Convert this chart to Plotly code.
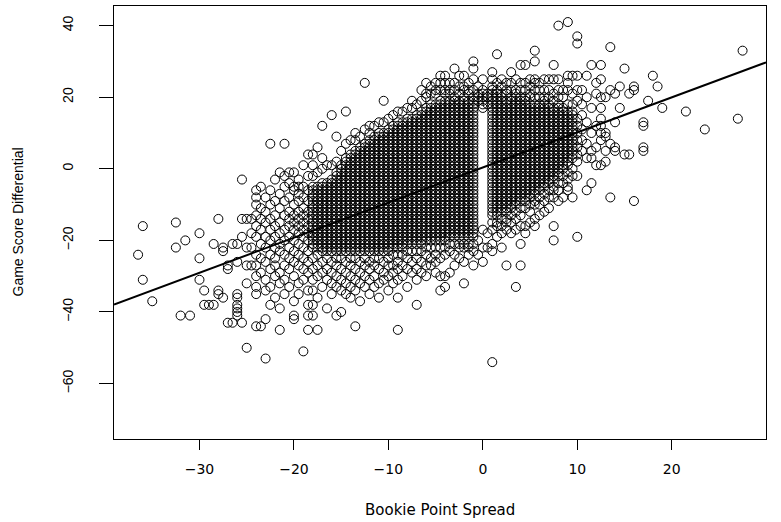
import plotly.graph_objects as go

# Bookie point spread columns (x) and the game score differentials observed at each spread (y)
spread_values = [
    -36.5, -36, -35, -32.5, -32, -31.5, -31, -30, -29.5, -29, -28.5, -28, -27.5, -27, -26.5,
    -26, -25.5, -25, -24.5, -24, -23.5, -23, -22.5, -22, -21.5, -21, -20.5, -20, -19.5, -19,
    -18.5, -18, -17.5, -17, -16.5, -16, -15.5, -15, -14.5, -14, -13.5, -13, -12.5, -12, -11.5,
    -11, -10.5, -10, -9.5, -9, -8.5, -8, -7.5, -7, -6.5, -6, -5.5, -5, -4.5, -4, -3.5, -3,
    -2.5, -2, -1.5, -1, -0.5, 0, 0.5, 1, 1.5, 2, 2.5, 3, 3.5, 4, 4.5, 5, 5.5, 6, 6.5, 7, 7.5,
    8, 8.5, 9, 9.5, 10, 10.5, 11, 11.5, 12, 12.5, 13, 13.5, 14, 14.5, 15, 15.5, 16, 17, 17.5,
    18, 18.5, 19, 21.5, 23.5, 27, 27.5,
]

score_lists = [
    [-24],  # -36.5
    [-16, -31],  # -36
    [-37],  # -35
    [-15, -22],  # -32.5
    [-41],  # -32
    [-20],  # -31.5
    [-41],  # -31
    [-18, -25, -31],  # -30
    [-38, -34],  # -29.5
    [-38],  # -29
    [-21, -38],  # -28.5
    [-14, -34, -35],  # -28
    [-22, -23, -36],  # -27.5
    [-27, -28, -43],  # -27
    [-21, -43],  # -26.5
    [-21, -26, -35, -36, -38, -39, -40, -41],  # -26
    [-3, -14, -19, -43],  # -25.5
    [-14, -22, -27, -32, -50],  # -25
    [-14, -18, -22, -27],  # -24.5
    [-6, -8, -10, -13, -16, -19, -24, -27, -30, -33, -35, -44],  # -24
    [-5, -11, -14, -17, -21, -25, -29, -44],  # -23.5
    [-8, -12, -15, -19, -22, -26, -31, -34, -42, -53],  # -23
    [7, -6, -10, -14, -17, -20, -24, -28, -33, -38],  # -22.5
    [-3, -9, -13, -16, -19, -22, -25, -27, -30, -36],  # -22
    [-1, -7, -11, -15, -18, -21, -23, -29, -32, -39, -45],  # -21.5
    [7, -2, -5, -9, -13, -17, -20, -24, -27, -31, -35],  # -21
    [-1, -4, -8, -12, -14, -16, -19, -22, -25, -28, -33],  # -20.5
    [-1, -5, -6, -10, -13, -15, -17, -20, -23, -26, -30, -37, -41, -42],  # -20
    [-3, -5, -7, -9, -12, -14, -16, -18, -21, -24, -27, -32, -35],  # -19.5
    [1, -5, -8, -11, -13, -15, -17, -19, -22, -25, -28, -31, -51],  # -19
    [4, -2, -6, -9, -12, -14, -16, -18, -20, -23, -26, -29, -34, -38, -41, -45],  # -18.5
    [-22, -21, -20, -19, -18, -17, -16, -15, -14, -13, -12, -11, -10, -9, -8, -7, -6, -5,
     -2, 1, 4, -25, -28, -31, -34, -38, -41],  # -18
    [-22, -21, -20, -19, -18, -17, -16, -15, -14, -13, -12, -11, -10, -9, -8, -7, -6, -5,
     -1, 6, -24, -27, -30, -36, -45],  # -17.5
    [-23, -22, -21, -20, -19, -18, -17, -16, -15, -14, -13, -12, -11, -10, -9, -8, -7, -6, -5, -4,
     0, 3, 12, -26, -29, -33],  # -17
    [-23, -22, -21, -20, -19, -18, -17, -16, -15, -14, -13, -12, -11, -10, -9, -8, -7, -6, -5, -4,
     1, -25, -28, -31, -39],  # -16.5
    [-23, -22, -21, -20, -19, -18, -17, -16, -15, -14, -13, -12, -11, -10, -9, -8, -7, -6, -5, -4, -3,
     1, 15, -26, -29, -32, -35],  # -16
    [-23, -22, -21, -20, -19, -18, -17, -16, -15, -14, -13, -12, -11, -10, -9, -8, -7, -6, -5, -4, -3,
     -2, -1, 2, 9, -25, -27, -30, -33, -41],  # -15.5
    [-23, -22, -21, -20, -19, -18, -17, -16, -15, -14, -13, -12, -11, -10, -9, -8, -7, -6, -5, -4, -3,
     -2, -1, 0, 1, 5, -25, -28, -31, -34, -40],  # -15
    [-23, -22, -21, -20, -19, -18, -17, -16, -15, -14, -13, -12, -11, -10, -9, -8, -7, -6, -5, -4, -3,
     -2, -1, 0, 1, 2, 3, 7, 16, -26, -29, -32, -35],  # -14.5
    [-23, -22, -21, -20, -19, -18, -17, -16, -15, -14, -13, -12, -11, -10, -9, -8, -7, -6, -5, -4, -3,
     -2, -1, 0, 1, 2, 3, 4, 8, -25, -27, -30, -33, -36],  # -14
    [-23, -22, -21, -20, -19, -18, -17, -16, -15, -14, -13, -12, -11, -10, -9, -8, -7, -6, -5, -4, -3,
     -2, -1, 0, 1, 2, 3, 4, 5, 8, 10, -25, -28, -31, -34, -44],  # -13.5
    [-23, -22, -21, -20, -19, -18, -17, -16, -15, -14, -13, -12, -11, -10, -9, -8, -7, -6, -5, -4, -3,
     -2, -1, 0, 1, 2, 3, 4, 5, 6, 9, -26, -29, -32, -37],  # -13
    [-23, -22, -21, -20, -19, -18, -17, -16, -15, -14, -13, -12, -11, -10, -9, -8, -7, -6, -5, -4, -3,
     -2, -1, 0, 1, 2, 3, 4, 5, 6, 7, 11, 24, -25, -27, -30, -33],  # -12.5
    [-23, -22, -21, -20, -19, -18, -17, -16, -15, -14, -13, -12, -11, -10, -9, -8, -7, -6, -5, -4, -3,
     -2, -1, 0, 1, 2, 3, 4, 5, 6, 7, 8, 10, 12, -26, -28, -31, -35],  # -12
    [-23, -22, -21, -20, -19, -18, -17, -16, -15, -14, -13, -12, -11, -10, -9, -8, -7, -6, -5, -4, -3,
     -2, -1, 0, 1, 2, 3, 4, 5, 6, 7, 8, 9, 12, -25, -27, -30, -33],  # -11.5
    [-23, -22, -21, -20, -19, -18, -17, -16, -15, -14, -13, -12, -11, -10, -9, -8, -7, -6, -5, -4, -3,
     -2, -1, 0, 1, 2, 3, 4, 5, 6, 7, 8, 9, 10, 13, -25, -28, -32, -36],  # -11
    [-23, -22, -21, -20, -19, -18, -17, -16, -15, -14, -13, -12, -11, -10, -9, -8, -7, -6, -5, -4, -3,
     -2, -1, 0, 1, 2, 3, 4, 5, 6, 7, 8, 9, 10, 13, 19, -26, -29, -31],  # -10.5
    [-23, -22, -21, -20, -19, -18, -17, -16, -15, -14, -13, -12, -11, -10, -9, -8, -7, -6, -5, -4, -3,
     -2, -1, 0, 1, 2, 3, 4, 5, 6, 7, 8, 9, 10, 11, 14, -25, -27, -30, -34],  # -10
    [-22, -21, -20, -19, -18, -17, -16, -15, -14, -13, -12, -11, -10, -9, -8, -7, -6, -5, -4, -3,
     -2, -1, 0, 1, 2, 3, 4, 5, 6, 7, 8, 9, 10, 11, 12, 15, -24, -27, -29, -32],  # -9.5
    [-22, -21, -20, -19, -18, -17, -16, -15, -14, -13, -12, -11, -10, -9, -8, -7, -6, -5, -4, -3,
     -2, -1, 0, 1, 2, 3, 4, 5, 6, 7, 8, 9, 10, 11, 12, 13, 16, -24, -26, -28, -31, -36, -45],  # -9
    [-22, -21, -20, -19, -18, -17, -16, -15, -14, -13, -12, -11, -10, -9, -8, -7, -6, -5, -4, -3,
     -2, -1, 0, 1, 2, 3, 4, 5, 6, 7, 8, 9, 10, 11, 12, 13, 16, -24, -27, -30],  # -8.5
    [-21, -20, -19, -18, -17, -16, -15, -14, -13, -12, -11, -10, -9, -8, -7, -6, -5, -4, -3,
     -2, -1, 0, 1, 2, 3, 4, 5, 6, 7, 8, 9, 10, 11, 12, 13, 14, 17, -23, -25, -28, -33],  # -8
    [-21, -20, -19, -18, -17, -16, -15, -14, -13, -12, -11, -10, -9, -8, -7, -6, -5, -4, -3,
     -2, -1, 0, 1, 2, 3, 4, 5, 6, 7, 8, 9, 10, 11, 12, 13, 14, 17, 19, -23, -26, -29],  # -7.5
    [-21, -20, -19, -18, -17, -16, -15, -14, -13, -12, -11, -10, -9, -8, -7, -6, -5, -4, -3,
     -2, -1, 0, 1, 2, 3, 4, 5, 6, 7, 8, 9, 10, 11, 12, 13, 14, 15, 18, -23, -25, -28, -31, -38],  # -7
    [-21, -20, -19, -18, -17, -16, -15, -14, -13, -12, -11, -10, -9, -8, -7, -6, -5, -4, -3,
     -2, -1, 0, 1, 2, 3, 4, 5, 6, 7, 8, 9, 10, 11, 12, 13, 14, 15, 16, 19, 22, -23, -26, -29],  # -6.5
    [-20, -19, -18, -17, -16, -15, -14, -13, -12, -11, -10, -9, -8, -7, -6, -5, -4, -3,
     -2, -1, 0, 1, 2, 3, 4, 5, 6, 7, 8, 9, 10, 11, 12, 13, 14, 15, 16, 17, 20, 21, 24,
     -22, -24, -27, -30],  # -6
    [-20, -19, -18, -17, -16, -15, -14, -13, -12, -11, -10, -9, -8, -7, -6, -5, -4, -3,
     -2, -1, 0, 1, 2, 3, 4, 5, 6, 7, 8, 9, 10, 11, 12, 13, 14, 15, 16, 17, 18, 21, 23,
     -22, -25, -27],  # -5.5
    [-20, -19, -18, -17, -16, -15, -14, -13, -12, -11, -10, -9, -8, -7, -6, -5, -4, -3,
     -2, -1, 0, 1, 2, 3, 4, 5, 6, 7, 8, 9, 10, 11, 12, 13, 14, 15, 16, 17, 18, 21, 22, 24,
     -22, -24, -26, -29],  # -5
    [-20, -19, -18, -17, -16, -15, -14, -13, -12, -11, -10, -9, -8, -7, -6, -5, -4, -3,
     -2, -1, 0, 1, 2, 3, 4, 5, 6, 7, 8, 9, 10, 11, 12, 13, 14, 15, 16, 17, 18, 19, 22, 24, 26,
     -22, -25, -30, -34],  # -4.5
    [-20, -19, -18, -17, -16, -15, -14, -13, -12, -11, -10, -9, -8, -7, -6, -5, -4, -3,
     -2, -1, 0, 1, 2, 3, 4, 5, 6, 7, 8, 9, 10, 11, 12, 13, 14, 15, 16, 17, 18, 19, 21, 22, 24, 26,
     -22, -24, -30, -33],  # -4
    [-19, -18, -17, -16, -15, -14, -13, -12, -11, -10, -9, -8, -7, -6, -5, -4, -3,
     -2, -1, 0, 1, 2, 3, 4, 5, 6, 7, 8, 9, 10, 11, 12, 13, 14, 15, 16, 17, 18, 19, 21, 22, 24,
     -21, -23, -29],  # -3.5
    [-19, -18, -17, -16, -15, -14, -13, -12, -11, -10, -9, -8, -7, -6, -5, -4, -3,
     -2, -1, 0, 1, 2, 3, 4, 5, 6, 7, 8, 9, 10, 11, 12, 13, 14, 15, 16, 17, 18, 19, 20, 22, 24, 28,
     -21, -24, -27],  # -3
    [-19, -18, -17, -16, -15, -14, -13, -12, -11, -10, -9, -8, -7, -6, -5, -4, -3,
     -2, -1, 0, 1, 2, 3, 4, 5, 6, 7, 8, 9, 10, 11, 12, 13, 14, 15, 16, 17, 18, 19, 21, 23, 26,
     -21, -22, -25],  # -2.5
    [-19, -18, -17, -16, -15, -14, -13, -12, -11, -10, -9, -8, -7, -6, -5, -4, -3,
     -2, -1, 0, 1, 2, 3, 4, 5, 6, 7, 8, 9, 10, 11, 12, 13, 14, 15, 16, 17, 18, 19, 20, 22, 23, 26,
     -21, -22, -26, -32],  # -2
    [-19, -18, -17, -16, -15, -14, -13, -12, -11, -10, -9, -8, -7, -6, -5, -4, -3,
     -2, -1, 0, 1, 2, 3, 4, 5, 6, 7, 8, 9, 10, 11, 12, 13, 14, 15, 16, 17, 18, 19, 21, 22, 24,
     -21, -22, -24],  # -1.5
    [-19, -18, -17, -16, -15, -14, -13, -12, -11, -10, -9, -8, -7, -6, -5, -4, -3,
     -2, -1, 0, 1, 2, 3, 4, 5, 6, 7, 8, 9, 10, 11, 12, 13, 14, 15, 16, 17, 18, 19, 20, 22, 25, 28, 30,
     -21, -23, -27],  # -1
    [19, 20, 21, 23, -20, -24],  # -0.5
    [17, 18, 19, 20, 21, 22, 25, -17, -22, -26],  # 0
    [18, 20, 21, -18, -22],  # 0.5
    [-13, -12, -11, -10, -9, -8, -7, -6, -5, -4, -3, -2, -1, 0, 1, 2, 3, 4, 5, 6, 7, 8, 9, 10,
     11, 12, 13, 14, 15, 16, 17, 18, 19, 20, 21, 22, 23, 25, 27, -15, -17, -21, -23, -54],  # 1
    [-13, -12, -11, -10, -9, -8, -7, -6, -5, -4, -3, -2, -1, 0, 1, 2, 3, 4, 5, 6, 7, 8, 9, 10,
     11, 12, 13, 14, 15, 16, 17, 18, 19, 20, 21, 22, 24, 32, -15, -16, -19],  # 1.5
    [-12, -11, -10, -9, -8, -7, -6, -5, -4, -3, -2, -1, 0, 1, 2, 3, 4, 5, 6, 7, 8, 9, 10,
     11, 12, 13, 14, 15, 16, 17, 18, 19, 20, 21, 23, 25, -14, -16, -18, -22],  # 2
    [-12, -11, -10, -9, -8, -7, -6, -5, -4, -3, -2, -1, 0, 1, 2, 3, 4, 5, 6, 7, 8, 9, 10,
     11, 12, 13, 14, 15, 16, 17, 18, 19, 21, 22, 24, -14, -15, -17, -27],  # 2.5
    [-11, -10, -9, -8, -7, -6, -5, -4, -3, -2, -1, 0, 1, 2, 3, 4, 5, 6, 7, 8, 9, 10,
     11, 12, 13, 14, 15, 16, 17, 18, 19, 20, 22, 24, 27, -13, -15, -18],  # 3
    [-10, -9, -8, -7, -6, -5, -4, -3, -2, -1, 0, 1, 2, 3, 4, 5, 6, 7, 8, 9, 10,
     11, 12, 13, 14, 15, 16, 17, 18, 19, 20, 21, 22, 25, -12, -14, -17, -33],  # 3.5
    [-9, -8, -7, -6, -5, -4, -3, -2, -1, 0, 1, 2, 3, 4, 5, 6, 7, 8, 9, 10,
     11, 12, 13, 14, 15, 16, 17, 18, 19, 20, 22, 24, 29, -11, -13, -16, -21, -27],  # 4
    [-9, -8, -7, -6, -5, -4, -3, -2, -1, 0, 1, 2, 3, 4, 5, 6, 7, 8, 9, 10,
     11, 12, 13, 14, 15, 16, 17, 18, 19, 20, 22, 24, 29, -11, -16, -18],  # 4.5
    [-8, -7, -6, -5, -4, -3, -2, -1, 0, 1, 2, 3, 4, 5, 6, 7, 8, 9, 10,
     11, 12, 13, 14, 15, 16, 17, 18, 20, 21, 23, 25, -10, -12, -15],  # 5
    [-7, -6, -5, -4, -3, -2, -1, 0, 1, 2, 3, 4, 5, 6, 7, 8, 9, 10,
     11, 12, 13, 14, 15, 16, 17, 18, 20, 22, 24, 25, 30, 33, -9, -10, -14, -16],  # 5.5
    [-6, -5, -4, -3, -2, -1, 0, 1, 2, 3, 4, 5, 6, 7, 8, 9, 10,
     11, 12, 13, 14, 15, 16, 17, 18, 20, 22, 24, -8, -10, -13],  # 6
    [-5, -4, -3, -2, -1, 0, 1, 2, 3, 4, 5, 6, 7, 8, 9, 10,
     11, 12, 13, 14, 15, 16, 17, 18, 19, 20, 22, 25, -7, -9, -12],  # 6.5
    [-4, -3, -2, -1, 0, 1, 2, 3, 4, 5, 6, 7, 8, 9, 10,
     11, 12, 13, 14, 15, 16, 17, 18, 20, 22, 25, -6, -8, -11],  # 7
    [-3, -2, -1, 0, 1, 2, 3, 4, 5, 6, 7, 8, 9, 10,
     11, 12, 13, 14, 15, 16, 17, 19, 21, 25, 29, -5, -6, -8, -16, -20],  # 7.5
    [-2, -1, 0, 1, 2, 3, 4, 5, 6, 7, 8, 9, 10,
     11, 12, 13, 14, 15, 16, 17, 18, 20, 22, 25, 40, -4, -6, -9],  # 8
    [0, 1, 2, 3, 4, 5, 6, 7, 8, 9, 10, 11, 12, 13, 14, 15, 16, 17, 20, 22, -2, -4, -8],  # 8.5
    [1, 2, 3, 4, 5, 6, 7, 8, 9, 10, 11, 12, 13, 14, 15, 16, 18, 22, 24, 26, 41, -1, -3, -5, -6],  # 9
    [3, 4, 5, 6, 7, 8, 9, 10, 11, 12, 13, 14, 15, 16, 18, 21, 26, 0, -2, -8],  # 9.5
    [2, 4, 6, 8, 10, 12, 14, 19, 22, 26, 35, 37, -2, -19],  # 10
    [5, 8, 11, 15, 18, 22],  # 10.5
    [3, 7, 13, 20, 26, -6],  # 11
    [5, 3, -4, 10, 17, 29],  # 11.5
    [1, 6, 12, 21, 24],  # 12
    [14, 12, 17, 25, 29, 8, 1, 20, 10],  # 12.5
    [2, 5, 9, 20, 10],  # 13
    [7, 22, 34, -8],  # 13.5
    [5, 6, 13, 21],  # 14
    [17, 23],  # 14.5
    [4, 28],  # 15
    [4, 21],  # 15.5
    [22, 23, -9],  # 16
    [5, 6, 12, 13],  # 17
    [19],  # 17.5
    [26],  # 18
    [23],  # 18.5
    [17],  # 19
    [16],  # 21.5
    [11],  # 23.5
    [14],  # 27
    [33],  # 27.5
]

# least-squares line as drawn in the reference
fit_intercept = 0.36
fit_slope = 0.98

x_ticks = [-30, -20, -10, 0, 10, 20, 30]
y_ticks = [-60, -40, -20, 0, 20, 40]
x_range = [-39.05, 29.98]
y_range = [-75.48, 45.48]
x_title = "Bookie Point Spread"
y_title = "Game Score Differential"

spread = []
score_diff = []
for s, ys in zip(spread_values, score_lists):
    spread.extend([s] * len(ys))
    score_diff.extend(ys)

sans = "Liberation Sans, Arial, sans-serif"
wide = "DejaVu Sans, sans-serif"

fig = go.Figure()
fig.add_trace(go.Scatter(
    x=spread, y=score_diff, mode="markers",
    marker=dict(symbol="circle-open", size=9, color="black", line=dict(width=1, color="black")),
    hoverinfo="skip", showlegend=False,
))
fig.add_trace(go.Scatter(
    x=x_range, y=[fit_intercept + fit_slope * v for v in x_range], mode="lines",
    line=dict(color="black", width=2), hoverinfo="skip", showlegend=False,
))

axis_common = dict(
    showgrid=False, zeroline=False, showline=True, mirror=True, linecolor="black", linewidth=1,
    ticks="outside", tickcolor="black", tickwidth=1,
)
fig.update_xaxes(range=x_range, tickvals=x_ticks, ticklen=10, ticklabelstandoff=7,
                 tickfont=dict(family=wide, size=14, color="black"), **axis_common)
fig.update_yaxes(range=y_range, tickvals=y_ticks, tickangle=-90, ticklen=14, ticklabelstandoff=20,
                 tickfont=dict(family=sans, size=14, color="black"), **axis_common)
fig.update_layout(
    width=781, height=522, plot_bgcolor="white", paper_bgcolor="white",
    margin=dict(l=114, r=15, t=6, b=83, autoexpand=False),
    font=dict(family=sans, color="black"),
    annotations=[
        dict(text=x_title, xref="paper", yref="paper", x=0.5, y=0, xanchor="center", yanchor="middle",
             yshift=-71, showarrow=False, font=dict(family=wide, size=15, color="black")),
        dict(text=y_title, xref="paper", yref="paper", x=0, y=0.5, xanchor="center", yanchor="middle",
             xshift=-97, textangle=-90, showarrow=False, font=dict(family=sans, size=14, color="black")),
    ],
)
fig.write_html("out.html", config={"displayModeBar": False},
               post_script="document.body.style.margin='0px';")
